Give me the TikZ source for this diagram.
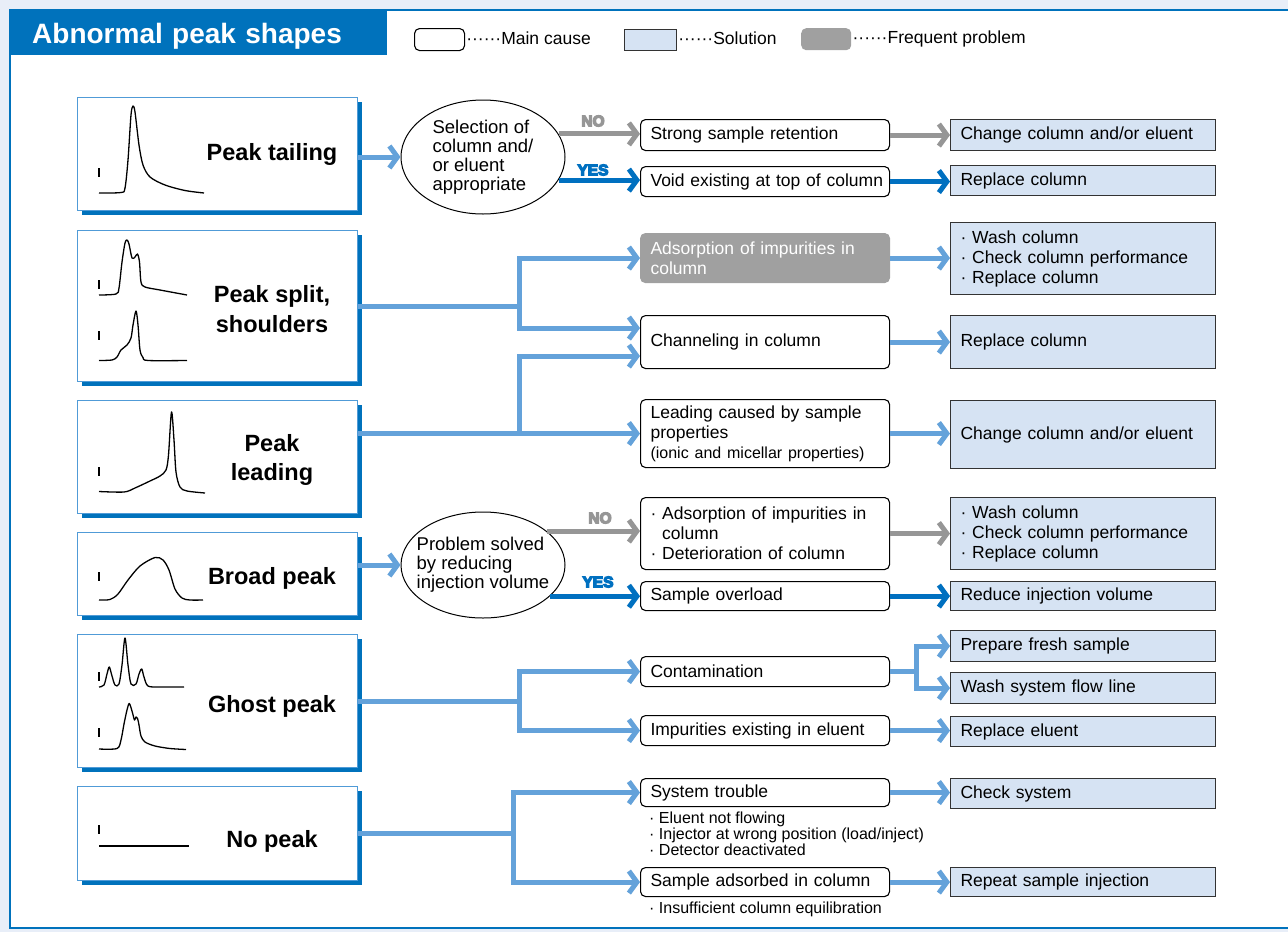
\documentclass[tikz,border=0pt]{standalone}
\usepackage{fontspec}
\setmainfont{Liberation Sans}
\newfontfamily\tagbold[FakeBold=8]{Liberation Sans Bold}
\usetikzlibrary{arrows.meta, positioning, shapes.geometric, shadows}

\definecolor{bannerblue}{RGB}{0,114,188}
\definecolor{peakedge}{RGB}{80,155,215}
\definecolor{arrowblue}{RGB}{100,162,218}
\definecolor{yesblue}{RGB}{0,112,192}
\definecolor{nogrey}{RGB}{150,150,150}
\definecolor{freqgrey}{RGB}{160,160,160}
\definecolor{solfill}{RGB}{214,227,243}
\definecolor{pagebg}{RGB}{232,238,248}

\newcommand{\mainsize}{\fontsize{17.5}{20}\selectfont}
\newcommand{\notesize}{\fontsize{16}{16}\selectfont}
\newcommand{\ovalsize}{\fontsize{18.5}{19}\selectfont}
\newcommand{\peaksize}{\fontsize{23.5}{29.5}\selectfont}
\newcommand{\titlesize}{\fontsize{28}{30}\selectfont}
\newcommand{\legendsize}{\fontsize{17.5}{20}\selectfont}
\newcommand{\tagsize}{\tagbold\fontsize{15.5}{15.5}\selectfont}

\begin{document}
\begin{tikzpicture}[x=1pt, y=-1pt,
    peakbox/.style={draw=peakedge, line width=1, fill=white, anchor=north west,
        minimum width=280, minimum height=#1, inner sep=0,
        drop shadow={shadow xshift=4pt, shadow yshift=-4pt, opacity=1, fill=bannerblue}},
    peaklabel/.style={font=\peaksize\bfseries, align=center, inner sep=0},
    decision/.style={draw, ellipse, line width=1, minimum width=164, minimum height=#1, inner sep=0},
    ovaltext/.style={align=left, inner sep=0, font=\ovalsize},
    cause/.style={draw, line width=1.1, rounded corners=5, fill=white, anchor=north west,
        text width=229, inner xsep=10, inner ysep=3, minimum height=#1, align=left, font=\mainsize},
    frequent/.style={cause=#1, draw=freqgrey, fill=freqgrey, text=white},
    solution/.style={draw=black!80, line width=1.1, fill=solfill, anchor=north west,
        text width=245, inner xsep=10, inner ysep=3, minimum height=#1, align=left, font=\mainsize},
    note/.style={anchor=north west, align=left, inner sep=0, font=\notesize},
    flow/.style={line width=5, draw=arrowblue, -{Straight Barb[length=8pt, width=22pt]}},
    noflow/.style={flow, draw=nogrey},
    yesflow/.style={flow, draw=yesblue},
    tagnode/.style={font=\tagsize, inner sep=0},
    trace/.style={line width=1.3, line join=round},
    legtext/.style={font=\legendsize, inner sep=0, text height=13, text depth=4}]
    \useasboundingbox (0,0) rectangle (1288,932);
    \hyphenpenalty=10000

    % Page and title
    \fill[pagebg] (0,0) rectangle (1288,932);
    \draw[bannerblue, line width=2.5, fill=white] (10,10) rectangle (1300,928);
    \node[fill=bannerblue, anchor=north west, text width=332, inner xsep=23, inner ysep=9,
        text height=25, text depth=3, text=white, font=\titlesize\bfseries] (title) at (9,9) {Abnormal peak shapes};

    % Legend
    \node[draw, line width=1.1, rounded corners=5, fill=white, anchor=north west,
        minimum width=50, minimum height=22] (legcause) at (414,28) {};
    \node[legtext, right=1pt of legcause] (legcausetxt) {······Main cause};
    \node[draw=black!80, line width=1.1, fill=solfill, anchor=north west,
        minimum width=52, minimum height=21] (legsol) at (624,29) {};
    \node[legtext, right=1pt of legsol] (legsoltxt) {······Solution};
    \node[fill=freqgrey, rounded corners=5, anchor=north west,
        minimum width=50, minimum height=22] (legfreq) at (801,28) {};
    \node[legtext, right=1pt of legfreq] (legfreqtxt) {······Frequent problem};

    % Peak shape boxes
    \node[peakbox=113] (tailing) at (77,97) {};
    \node[peakbox=151] (split) at (77,230) {};
    \node[peakbox=113] (leading) at (77,400) {};
    \node[peakbox=83] (broad) at (77,532) {};
    \node[peakbox=133] (ghost) at (77,634) {};
    \node[peakbox=94] (nopeak) at (77,786) {};

    \node[peaklabel] (tailinglbl) at (272,154) {Peak tailing};
    \node[peaklabel] (splitlbl) at (272,309) {Peak split,\\shoulders};
    \node[peaklabel] (leadinglbl) at (272,460) {Peak\\leading};
    \node[peaklabel] (broadlbl) at (272,578) {Broad peak};
    \node[peaklabel] (ghostlbl) at (272,706) {Ghost peak};
    \node[peaklabel] (nopeaklbl) at (272,841) {No peak};

    % Chromatogram traces
    \foreach \y in {168,280,331,467,572,672,728,825}
        \draw[trace] (99,\y) -- (99,\y+9);
    \draw[trace] plot[smooth] coordinates {(99,193) (121,192.5) (125,188) (128,160) (131,115)
        (133,106) (135,112) (139,145) (143,165) (150,177) (165,185) (185,190.5) (204,193)};
    \draw[trace] plot[smooth] coordinates {(99,295) (116,294) (119,288) (122,262) (125,243)
        (127,240) (129,244) (132,258) (135,257) (137.5,254) (139.5,262) (141,282) (145,287)
        (160,290) (187,295)};
    \draw[trace] plot[smooth] coordinates {(99,360.5) (112,360) (117,357) (121,350) (127,345)
        (131,338) (133,325) (136,311) (138,325) (140,350) (143,357.5) (148,360.5) (187,360.5)};
    \draw[trace] plot[smooth] coordinates {(99,491.5) (124,492) (135,488) (150,481) (160,476)
        (166,470) (168.5,455) (171.5,412) (174,440) (176,472) (180,487) (187,491) (205,493)};
    \draw[trace] plot[smooth] coordinates {(99,600) (110,599.5) (118,594) (128,580) (140,566)
        (155,557.5) (163,560) (169,570) (175,589) (182,598) (190,600) (203,600)};
    \draw[trace] plot[smooth] coordinates {(99,687) (104,685) (107,674) (109.3,667) (112,676)
        (115,685) (119,684) (122,665) (125,638) (128,665) (131,684) (136,684) (139,674)
        (141.7,669) (144,677) (148,686) (160,687) (184,687)};
    \draw[trace] plot[smooth] coordinates {(99,749) (117,748.5) (121,740) (124,724) (127,710)
        (129.3,703.5) (132,711) (134.5,720) (136,717) (137.7,719) (139,725) (141,736) (145,742)
        (155,746) (170,748.5) (186,749.5)};
    \draw[trace] (99,846) -- (189,846);

    % Decisions
    \node[decision=114] (selcol) at (483,157) {};
    \node[ovaltext] (selcoltxt) at (selcol) {Selection of\\column and/\\or eluent\\appropriate};
    \node[decision=106] (probsol) at (483,565) {};
    \node[ovaltext] (probsoltxt) at (probsol) {Problem solved\\by reducing\\injection volume};

    % Main causes
    \node[cause=31] (strong) at (640,119) {Strong sample retention};
    \node[cause=30] (void) at (640,166) {\mbox{Void existing at top of column}};
    \node[frequent=49] (adsorb) at (640,233) {Adsorption of impurities in\\column};
    \node[cause=53] (chan) at (640,315) {Channeling in column};
    \node[cause=68] (lead) at (640,399) {Leading caused by sample\\properties\\{\notesize(ionic and micellar properties)}};
    \node[cause=72] (adsorbdet) at (640,497) {· Adsorption of impurities in\\\phantom{· }column\\· Deterioration of column};
    \node[cause=29] (overload) at (640,581) {Sample overload};
    \node[cause=30] (contam) at (640,656) {Contamination};
    \node[cause=30] (impur) at (640,715) {Impurities existing in eluent};
    \node[cause=28] (systr) at (640,778) {System trouble};
    \node[cause=29] (sampads) at (640,867) {Sample adsorbed in column};

    \node[note] (systrnote) at (649,812) {· Eluent not flowing\\· Injector at wrong position (load/inject)\\· Detector deactivated};
    \node[note] (sampadsnote) at (649,902) {· Insufficient column equilibration};

    % Solutions
    \node[solution=31] (chgcol) at (950,119) {Change column and/or eluent};
    \node[solution=30] (replcol) at (950,165) {Replace column};
    \node[solution=72] (washcol) at (950,222) {· Wash column\\· Check column performance\\· Replace column};
    \node[solution=53] (replcolb) at (950,315) {Replace column};
    \node[solution=68] (chgcolb) at (950,400) {Change column and/or eluent};
    \node[solution=72] (washcolb) at (950,497) {· Wash column\\· Check column performance\\· Replace column};
    \node[solution=29] (reduce) at (950,581) {Reduce injection volume};
    \node[solution=31] (fresh) at (950,630) {Prepare fresh sample};
    \node[solution=31] (washline) at (950,672) {Wash system flow line};
    \node[solution=30] (repleluent) at (950,716) {Replace eluent};
    \node[solution=30] (chksys) at (950,778) {Check system};
    \node[solution=29] (repeat) at (950,867) {Repeat sample injection};

    % Bus lines
    \coordinate (busa) at (519,0);
    \coordinate (busb) at (513,0);
    \coordinate (busc) at (916,0);

    % Arrows: shapes to causes
    \draw[flow] (tailing.east |- selcol.west) -- (selcol.west);
    \draw[noflow] (selcol.17) -- (selcol.17 -| strong.west);
    \draw[yesflow] (selcol.-17) -- (selcol.-17 -| void.west);
    \draw[flow] (split.east) -- (split.east -| busa) |- (adsorb.west);
    \draw[flow] (split.east -| busa) |- ([yshift=14]chan.west);
    \draw[flow] (leading.east |- lead.west) -- (lead.west);
    \draw[flow] (lead.west -| busa) |- ([yshift=-14]chan.west);
    \draw[flow] (broad.east |- probsol.west) -- (probsol.west);
    \draw[noflow] (probsol.28) -- (probsol.28 -| adsorbdet.west);
    \draw[yesflow] (probsol.-25) -- (probsol.-25 -| overload.west);
    \draw[flow] (ghost.east) -- (ghost.east -| busa) |- (contam.west);
    \draw[flow] (ghost.east -| busa) |- (impur.west);
    \draw[flow] (nopeak.east) -- (nopeak.east -| busb) |- (systr.west);
    \draw[flow] (nopeak.east -| busb) |- (sampads.west);

    % Arrows: causes to solutions
    \draw[noflow] (strong.east) -- (strong.east -| chgcol.west);
    \draw[yesflow] (void.east) -- (void.east -| replcol.west);
    \draw[flow] (adsorb.east) -- (adsorb.east -| washcol.west);
    \draw[flow] (chan.east) -- (chan.east -| replcolb.west);
    \draw[flow] (lead.east) -- (lead.east -| chgcolb.west);
    \draw[noflow] (adsorbdet.east) -- (adsorbdet.east -| washcolb.west);
    \draw[yesflow] (overload.east) -- (overload.east -| reduce.west);
    \draw[flow] (contam.east) -- (contam.east -| busc) |- (fresh.west);
    \draw[flow] (contam.east -| busc) |- (washline.west);
    \draw[flow] (impur.east) -- (impur.east -| repleluent.west);
    \draw[flow] (systr.east) -- (systr.east -| chksys.west);
    \draw[flow] (sampads.east) -- (sampads.east -| repeat.west);

    % NO / YES tags
    \node[tagnode, text=nogrey] (noa) at (593,121) {NO};
    \node[tagnode, text=yesblue] (yesa) at (593,170) {YES};
    \node[tagnode, text=nogrey] (nob) at (600,518) {NO};
    \node[tagnode, text=yesblue] (yesb) at (598,582) {YES};
\end{tikzpicture}
\end{document}
